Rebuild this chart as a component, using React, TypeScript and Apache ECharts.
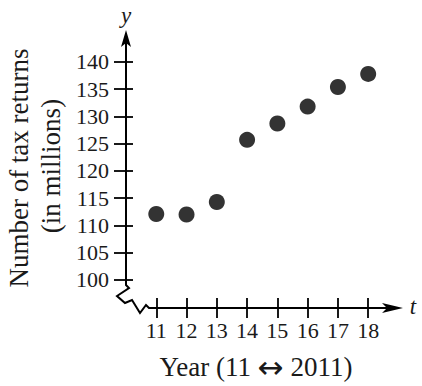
import React, { useEffect, useRef } from "react";
import * as echarts from "echarts";

const years = [11, 12, 13, 14, 15, 16, 17, 18];
const returns = [112.1, 112.0, 114.3, 125.7, 128.7, 131.8, 135.4, 137.8];
const yTicks = [100, 105, 110, 115, 120, 125, 130, 135, 140];
const xTicks = [11, 12, 13, 14, 15, 16, 17, 18];

const X_MIN = 10;
const X_MAX = 19.15;
const Y_MIN = 94.85;
const Y_MAX = 145.85;
const FONT = "'Liberation Serif', 'Times New Roman', serif";
const INK = "#1a1a1a";

export default function App() {
  const ref = useRef<HTMLDivElement>(null);

  useEffect(() => {
    if (!ref.current) return;
    const chart = echarts.init(ref.current, null, { renderer: "svg" });
    const baseYAxis = (inside: boolean, len: number, showLabel: boolean) => ({
      type: "value",
      min: Y_MIN,
      max: Y_MAX,
      position: "left",
      axisLine: { show: false },
      splitLine: { show: false },
      axisTick: {
        show: true,
        inside,
        length: len,
        customValues: yTicks,
        lineStyle: { color: "#000", width: 1.8 },
      },
      axisLabel: {
        show: showLabel,
        customValues: yTicks,
        margin: 17,
        fontFamily: FONT,
        fontSize: 22,
        color: INK,
      },
    });
    const baseXAxis = (inside: boolean, len: number, showLabel: boolean) => ({
      type: "value",
      min: X_MIN,
      max: X_MAX,
      position: "bottom",
      axisLine: { show: false },
      splitLine: { show: false },
      axisTick: {
        show: true,
        inside,
        length: len,
        customValues: xTicks,
        lineStyle: { color: "#000", width: 1.8 },
      },
      axisLabel: {
        show: showLabel,
        customValues: xTicks,
        margin: 11,
        fontFamily: FONT,
        fontSize: 22,
        color: INK,
      },
    });

    chart.setOption({
      animation: false,
      backgroundColor: "#fff",
      grid: { left: 126, top: 30, width: 277, height: 278 },
      xAxis: [baseXAxis(false, 10, true), baseXAxis(true, 10, false)],
      yAxis: [baseYAxis(false, 12, true), baseYAxis(true, 7, false)],
      series: [
        {
          type: "scatter",
          data: years.map((y, i) => [y, returns[i]]),
          symbolSize: 16,
          itemStyle: { color: "#000" },
        },
      ],
    });

    const px = (x: number, y: number) =>
      chart.convertToPixel({ gridIndex: 0 }, [x, y]) as number[];
    const o = px(X_MIN, Y_MIN);
    const top = px(X_MIN, Y_MAX);
    const right = px(X_MAX, Y_MIN);
    const ox = o[0];
    const oy = o[1];
    const lineStyle = { stroke: "#000", lineWidth: 2, fill: "none" };
    const titleStyle = {
      fontFamily: FONT,
      fontSize: 27,
      fill: INK,
      align: "center",
      verticalAlign: "middle",
    };

    chart.setOption({
      graphic: [
        {
          type: "polyline",
          shape: {
            points: [
              [ox, top[1] + 12],
              [ox, oy - 23],
              [ox + 3, oy - 20],
              [ox - 9, oy - 12],
              [ox - 1, oy - 5],
              [ox + 6, oy - 8],
              [ox + 14, oy + 5],
              [ox + 20, oy - 3],
              [ox + 23, oy],
              [right[0] - 15, oy],
            ],
          },
          style: lineStyle,
        },
        {
          type: "polygon",
          shape: {
            points: [
              [ox, top[1]],
              [ox + 5, top[1] + 17],
              [ox, top[1] + 13],
              [ox - 5, top[1] + 17],
            ],
          },
          style: { fill: "#000" },
        },
        {
          type: "polygon",
          shape: {
            points: [
              [right[0], oy],
              [right[0] - 21, oy - 5],
              [right[0] - 16, oy],
              [right[0] - 21, oy + 5],
            ],
          },
          style: { fill: "#000" },
        },
        {
          type: "text",
          x: ox,
          y: top[1] - 15,
          style: {
            text: "y",
            fontFamily: FONT,
            fontStyle: "italic",
            fontSize: 23,
            fill: INK,
            align: "center",
            verticalAlign: "middle",
          },
        },
        {
          type: "text",
          x: right[0] + 10,
          y: oy - 2,
          style: {
            text: "t",
            fontFamily: FONT,
            fontStyle: "italic",
            fontSize: 23,
            fill: INK,
            align: "center",
            verticalAlign: "middle",
          },
        },
        {
          type: "text",
          x: 256,
          y: 367,
          style: {
            ...titleStyle,
            text: "Year (11 {a|\u2194} 2011)",
            rich: {
              a: {
                fontFamily: "'DejaVu Sans', sans-serif",
                fontSize: 31,
                fill: INK,
                color: INK,
              },
            },
          },
        },
        {
          type: "text",
          x: 19,
          y: 168,
          rotation: Math.PI / 2,
          style: { ...titleStyle, text: "Number of tax returns" },
        },
        {
          type: "text",
          x: 51,
          y: 166,
          rotation: Math.PI / 2,
          style: { ...titleStyle, text: "(in millions)" },
        },
      ],
    });

    return () => chart.dispose();
  }, []);

  return (
    <div
      ref={ref}
      style={{ position: "fixed", left: 0, top: 0, width: 422, height: 386 }}
    />
  );
}
